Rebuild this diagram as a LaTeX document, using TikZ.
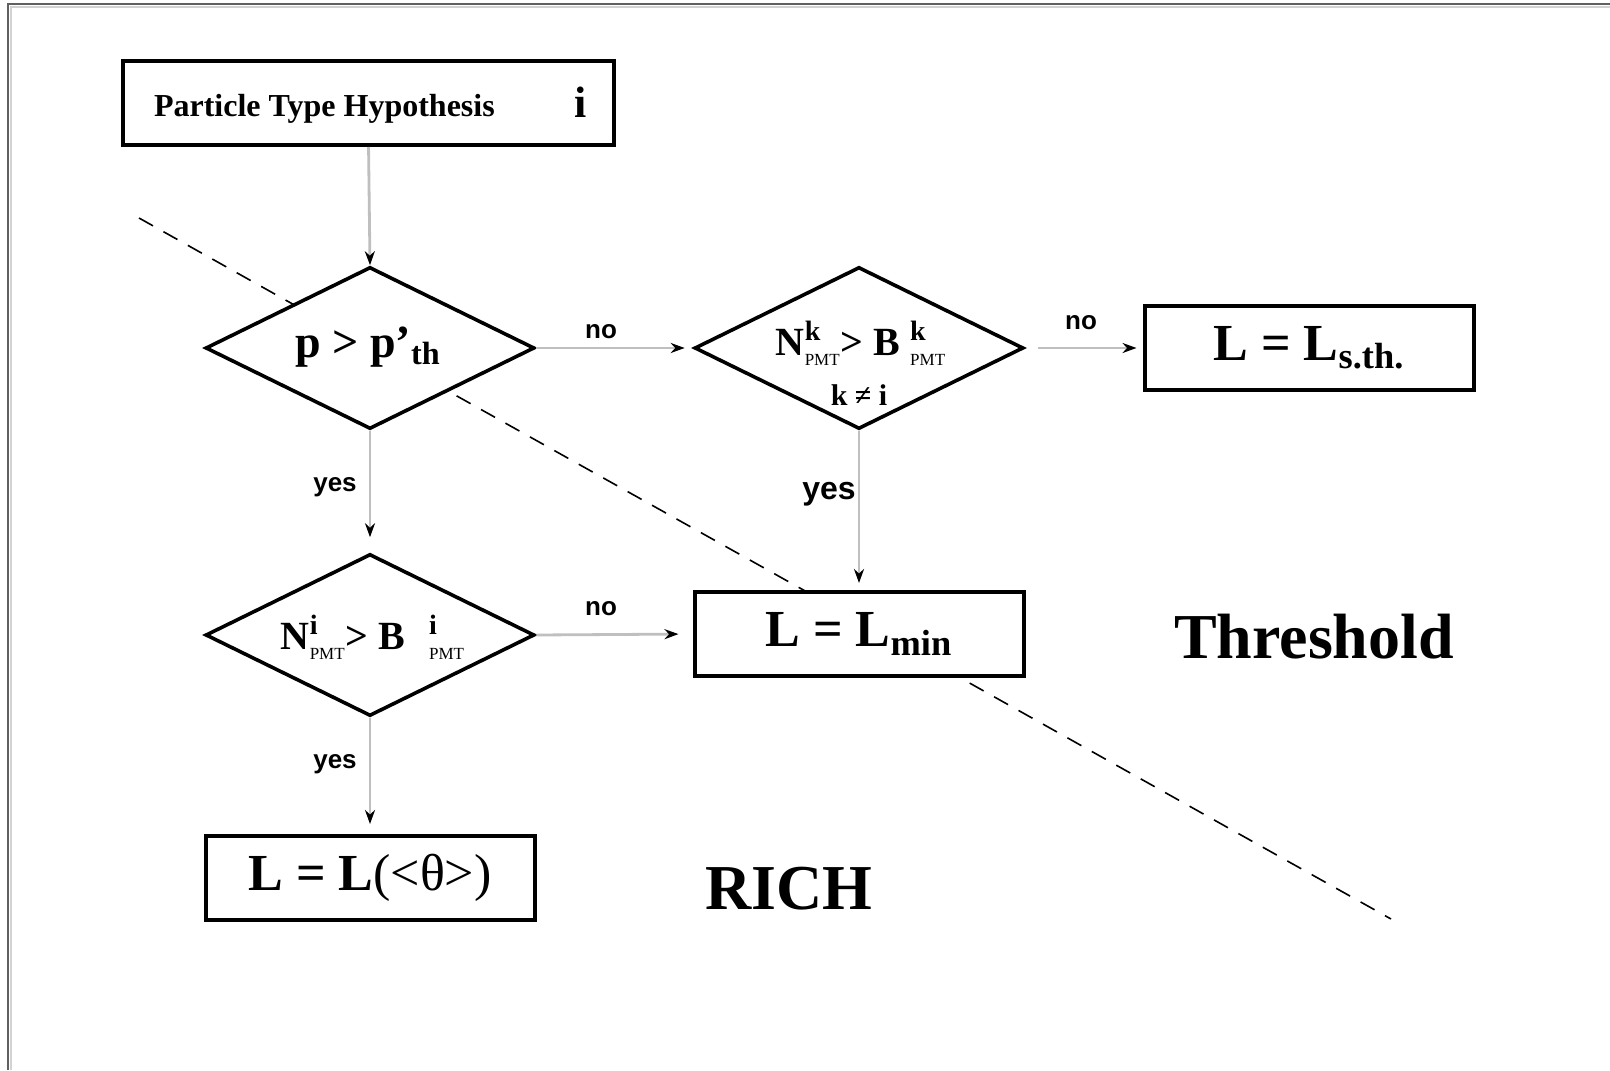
\documentclass[tikz,border=0pt]{standalone}
\usepackage{amsmath}
\usepackage{fontspec}
\setmainfont{Liberation Serif}
\newfontfamily\labelfont{Liberation Sans}
\usepackage{tikz}
\usetikzlibrary{arrows.meta,shapes.geometric}
\newcommand{\pmt}[1]{$^{\text{#1}}_{\text{\mdseries\fontsize{8.5}{9}\selectfont PMT}}$}

\begin{document}
\begin{tikzpicture}[x=0.5pt, y=-0.5pt,
  box/.style={draw, line width=2pt, fill=white, rectangle,
              minimum width=164.5pt, minimum height=42pt, inner sep=0pt,
              font=\fontsize{26}{30}\selectfont\bfseries},
  test/.style={draw, line width=1.8pt, fill=white, diamond,
               minimum width=164.5pt, minimum height=81pt, inner sep=0pt},
  flow/.style={draw=gray!50, line width=1.4pt,
               -{Stealth[color=black, length=7pt, width=5pt]}},
  lbl/.style={font=\labelfont\bfseries\fontsize{13}{15}\selectfont},
  region/.style={font=\fontsize{32}{36}\selectfont\bfseries},
]
\useasboundingbox (0,0) rectangle (1610,1070);

% frame
\draw[gray!75!black, line width=1.3pt] (8,1070) -- (8,4) -- (1610,4);
\draw[gray!35, line width=1pt] (11,1070) -- (11,7) -- (1610,7);

% RICH / Threshold border
\draw[line width=0.8pt, dash pattern=on 8pt off 6pt] (139,218) -- (1391,919);

% hypothesis
\node[box, minimum width=245.5pt] (hyp) at (368,103) {};
\node[anchor=west, font=\fontsize{16}{18}\selectfont\bfseries] (hyptxt) at (147,109)
  {Particle Type Hypothesis};
\node[font=\fontsize{22}{24}\selectfont\bfseries] (hypi) at (581,102) {i};

% tests
\node[test] (pth) at (370,348) {};
\node[font=\fontsize{23}{26}\selectfont\bfseries] (pthtxt) at (368,347)
  {p > p’\textsubscript{th}};

\node[test] (nk) at (859,348) {};
\node[font=\fontsize{20}{22}\selectfont\bfseries] (nktxt) at (861,343)
  {N\pmt{k}> B\hspace{5pt}\pmt{k}};
\node[font=\fontsize{15}{18}\selectfont\bfseries] (kneq) at (859,395) {k ≠ i};

\node[test] (ni) at (370,635) {};
\node[font=\fontsize{20}{22}\selectfont\bfseries] (nitxt) at (373,637)
  {N\pmt{i}> B\hspace{12pt}\pmt{i}};

% results
\node[box] (lsth) at (1309,348) {L = L\textsubscript{s.th.}};
\node[box] (lmin) at (859,634) {L = L\textsubscript{min}};
\node[box] (lrich) at (370,878) {L = L\textmd{(<θ>)}};

% connectors
\draw[flow] (hyp) -- (pth.north);
\draw[flow, shorten >=4pt] (pth.east) -- (nk.west);
\draw[flow, shorten <=6.5pt, shorten >=3pt] (nk.east) -- (lsth.west);
\draw[flow, shorten >=3.5pt] (nk.south) -- (lmin.north);
\draw[flow, shorten >=7.5pt] (pth.south) -- (ni.north);
\draw[flow, shorten >=7pt] (ni.east) -- (lmin.west);
\draw[flow, shorten >=5pt] (ni.south) -- (lrich.north);

\node[lbl] (no1) at (601,332) {no};
\node[lbl] (no2) at (1081,323) {no};
\node[lbl] (no3) at (601,609) {no};
\node[lbl] (yes1) at (335,487) {yes};
\node[lbl, font=\labelfont\bfseries\fontsize{16}{18}\selectfont] (yes2) at (829,494) {yes};
\node[lbl] (yes3) at (335,764) {yes};

% regions
\node[region] (rich) at (789,889) {RICH};
\node[region] (thr) at (1314,637) {Threshold};
\end{tikzpicture}
\end{document}
